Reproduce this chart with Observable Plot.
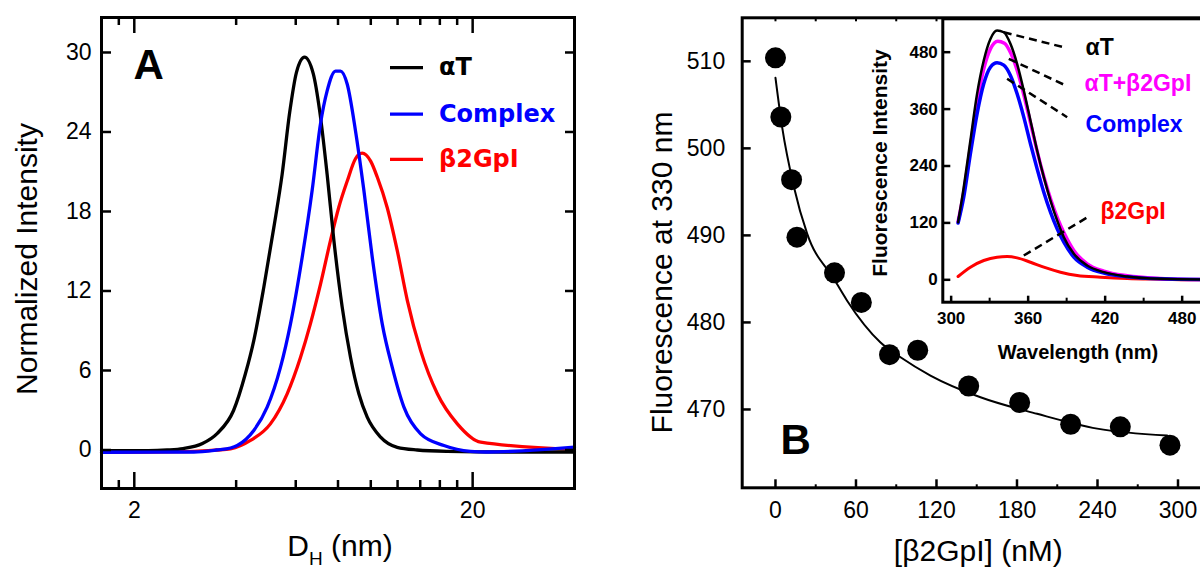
<!DOCTYPE html>
<html><head><meta charset="utf-8">
<script src="https://cdn.jsdelivr.net/npm/d3@7"></script>
<script src="https://cdn.jsdelivr.net/npm/@observablehq/plot@0.6"></script>
<style>
html,body{margin:0;padding:0;background:#fff;overflow:hidden}
#wrap{position:relative;width:1200px;height:569px;overflow:hidden;background:#fff}
#wrap > div{position:absolute;top:0}
</style></head>
<body><div id="wrap"><div id="pa" style="left:0;width:600px"></div><div id="pb" style="left:600px;width:640px"></div><div id="pi" style="left:860px;width:380px"></div></div>
<script>
// ---------- Panel A: DLS size distributions ----------
const seriesA = ["αT", "Complex", "β2GpI"];
const dhAT  = [1.6,2.2,2.5,2.79,3.18,3.52,3.93,4.26,4.51,4.83,5.17,5.47,5.76,6.03,6.37,6.76,7.07,7.43,7.78,8.23,8.71,9.22,9.76,10.69,11.97,13.72,16.8,25,40];
const intAT = [-0.05,-0.05,0.0,0.11,0.49,1.26,2.98,5.75,8.26,12.3,16.8,20.8,25.5,28.5,29.65,28.4,25.5,20.8,15.8,10.8,7.0,4.24,2.48,0.97,0.2,0.0,-0.1,-0.15,-0.15];
const dhCX  = [1.6,3.0,3.5,3.85,4.03,4.51,4.94,5.41,5.79,6.27,6.71,7.10,7.43,7.87,8.14,8.52,9.01,9.54,10.1,10.81,11.57,12.53,14.04,16.45,19.7,22,40];
const intCX = [-0.17,-0.15,0.0,0.15,0.34,1.47,3.23,6.25,9.52,14.55,19.6,24.6,27.1,28.6,28.6,27.6,24.1,19.6,14.55,9.52,6.25,3.23,1.22,0.34,-0.1,-0.15,0.21];
const dhB2  = [1.6,3.0,3.5,3.85,4.41,5.05,5.66,6.20,6.63,7.10,7.60,8.04,8.52,9.01,9.43,9.99,10.45,11.18,11.97,12.82,14.04,15.73,18.02,21.12,40];
const intB2 = [-0.17,-0.1,0.0,0.09,0.72,1.97,4.24,7.0,9.52,12.5,15.8,18.3,20.3,21.98,22.4,21.8,20.6,18.3,15.06,11.3,7.5,4.24,1.97,0.59,0.04];
const xTicksMajorA = [2, 20];
const xTicksMinorA = [1.8, 4, 6, 8, 10, 12, 14, 16, 18];
const yTicksA = [0, 6, 12, 18, 24, 30];

// ---------- Panel B: titration ----------
const conc = [0,4,12,16,44,64,85,106,144,182,220,257,294];
const fluo = [510.4,503.6,496.4,489.8,485.7,482.3,476.3,476.8,472.7,470.8,468.3,468.0,465.9];
const fitConc = [0,5,13.7,23.6,43.6,53.4,78.3,93.2,115.5,152.8,195,239.8,291.9];
const fitFluo = [508.1,502.4,495.6,490.2,485.0,482.5,477.7,476.0,473.9,471.4,469.5,467.8,467.0];
const xTicksB = [0, 60, 120, 180, 240, 300];
const xTicksMinorB = [30, 90, 150, 210, 270];
const yTicksB = [470, 480, 490, 500, 510];

// ---------- Inset: emission spectra ----------
const seriesI = ["αT", "αT+β2GpI", "Complex", "β2GpI"];
const wlAT = [305.4,309.8,315,320.2,325.4,330.6,335.8,341,346.2,351.4,356.6,361.8,367,372.2,377.4,382.6,387.8,395.6,406,419,437.2,463.2,494.4,505];
const fiAT = [121.5,195,293.8,392,462.5,508,525.7,522,497.6,455.4,399,336,272.7,216.4,167.2,125,89.9,54.8,30.2,16.1,6.9,2.0,0.6,0.5];
const wlMX = [305.4,309.8,315,320.2,325.4,330.6,336.3,341.5,346.7,351.9,357.1,362.3,367.5,372.7,377.9,383.1,388.3,395.6,406,419,437.2,463.2,494.4,505];
const fiMX = [123,184.8,279.7,374.6,445,487,503.2,499,476.6,437.8,385,325.4,265.7,213,167.2,128.6,97,61.8,33.7,18.3,8.4,2.8,0.6,0.5];
const wlCX = [305.4,309.8,315,320.2,325.4,330.6,335.8,341,346.2,351.4,356.6,361.8,367,372.2,377.4,382.6,387.8,395.6,406,419,437.2,463.2,494.4,505];
const fiCX = [119.7,174.2,265.7,350,413.3,448.3,457.6,452.6,430.8,392.2,343,286.8,234,184.8,142.6,107.5,79.3,47.7,26.7,14,6.3,2,0.6,0.5];
const wlB2 = [305.4,315,325.4,335.8,343.6,351.4,361.8,372.2,385.2,398.2,416.4,437.2,463.2,494.4,505];
const fiB2 = [7,26.6,40.7,47.7,49,46.3,37.1,26.6,16.1,9.1,5.6,2.8,1.4,0,0];
const xTicksI = [300, 360, 420, 480];
const xTicksMinorI = [330, 390, 450];
const yTicksI = [0, 120, 240, 360, 480];

// ---------- layout (positions / styles) ----------
const FONT = "'Liberation Sans', Arial, sans-serif";
const BOLD2 = "'DejaVu Sans', 'Liberation Sans', sans-serif";
const baseStyle = {fontFamily: FONT, fontSize: "23px", maxWidth: "none", background: "none", overflow: "visible", color: "black"};
const zipXY = (xs, ys) => xs.map((x, i) => ({x, y: ys[i]}));

const LA = {w: 600, h: 569, ml: 101, mr: 26, mt: 17, mb: 81, xd: [1.6, 40], yd: [-2.906, 32.64]};
const LB = {w: 640, h: 569, ml: 141.7, mr: 26, mt: 17.3, mb: 81.7, xd: [-24.8, 327.2], yd: [461.0, 515.0]};
const LI = {w: 380, h: 380, ml: 82.3, mr: 26, mt: 18.3, mb: 78.3, xd: [293.5, 505.2], yd: [-47.2, 550.4]};
const pw = L => L.w - L.ml - L.mr, ph = L => L.h - L.mt - L.mb;
function invLogX(px, L) { const t = (px - L.ml) / pw(L); return Math.exp(Math.log(L.xd[0]) + t * (Math.log(L.xd[1]) - Math.log(L.xd[0]))); }
function invY(py, L) { const t = (py - L.mt) / ph(L); return L.yd[1] - t * (L.yd[1] - L.yd[0]); }

const colorsA = ["black", "#0000ff", "#ff0000"];
const legendA = {x1: 390, x2: 423, tx: 438.5, rows: [67.1, 113.6, 158.9]};

// ---------- Panel A ----------
const linesA = [[dhAT, intAT, 0], [dhB2, intB2, 2], [dhCX, intCX, 1]];
const legendRows = seriesA.map((name, i) => ({name, i, y: invY(legendA.rows[i], LA)}));
const plotA = Plot.plot({
  width: LA.w, height: LA.h, marginLeft: LA.ml, marginRight: LA.mr, marginTop: LA.mt, marginBottom: LA.mb,
  style: baseStyle,
  x: {type: "log", domain: LA.xd},
  y: {domain: LA.yd},
  marks: [
    ...[linesA[1], linesA[0], linesA[2]].map(([xs, ys, c]) =>
      Plot.line(zipXY(xs, ys), {x: "x", y: "y", stroke: colorsA[c], strokeWidth: 3.3, curve: "monotone-x"})),
    // legend
    ...legendRows.map(r => Plot.ruleY([r], {y: "y", x1: invLogX(legendA.x1, LA), x2: invLogX(legendA.x2, LA), stroke: colorsA[r.i], strokeWidth: 3.3})),
    ...legendRows.map(r => Plot.text([r], {x: invLogX(legendA.tx, LA), y: "y", text: "name", fill: colorsA[r.i], textAnchor: "start", lineAnchor: "middle", fontSize: 24, fontWeight: "bold", fontFamily: BOLD2})),
    // ticks (inward)
    Plot.tickX(xTicksMajorA, {x: d => d, insetTop: ph(LA) - 16, strokeWidth: 2.5}),
    Plot.tickX(xTicksMajorA, {x: d => d, insetBottom: ph(LA) - 16, strokeWidth: 2.5}),
    Plot.tickX(xTicksMinorA, {x: d => d, insetTop: ph(LA) - 8, strokeWidth: 2.5}),
    Plot.tickX(xTicksMinorA, {x: d => d, insetBottom: ph(LA) - 8, strokeWidth: 2.5}),
    Plot.tickY(yTicksA, {y: d => d, insetRight: pw(LA) - 10, strokeWidth: 2.5}),
    Plot.tickY(yTicksA, {y: d => d, insetLeft: pw(LA) - 9, strokeWidth: 2.5}),
    Plot.axisX({ticks: xTicksMajorA, anchor: "bottom", tickSize: 0, tickPadding: 13, label: null, fontSize: 23, tickFormat: d => String(d)}),
    Plot.axisY({ticks: yTicksA, anchor: "left", tickSize: 0, tickPadding: 10, label: null, fontSize: 23}),
    Plot.frame({strokeWidth: 3}),
    Plot.text(["Normalized Intensity"], {text: d => d, frameAnchor: "left", rotate: -90, dx: -65, dy: 6, lineAnchor: "bottom", textAnchor: "middle", fontSize: 30}),
    Plot.text(["DH (nm)"], {text: d => d, frameAnchor: "bottom", dx: 2, dy: 67, lineAnchor: "bottom", textAnchor: "middle", fontSize: 30}),
    Plot.text(["A"], {text: d => d, frameAnchor: "top-left", dx: 32, dy: 61, lineAnchor: "bottom", textAnchor: "start", fontSize: 42, fontWeight: "bold"})
  ]
});
plotA.querySelectorAll("text").forEach(t => {
  if (t.textContent === "DH (nm)") t.innerHTML = 'D<tspan dy="9" font-size="19">H</tspan><tspan dy="-9"> (nm)</tspan>';
});
document.getElementById("pa").append(plotA);

// ---------- Panel B ----------
const plotB = Plot.plot({
  width: LB.w, height: LB.h, marginLeft: LB.ml, marginRight: LB.mr, marginTop: LB.mt, marginBottom: LB.mb,
  style: baseStyle,
  x: {domain: LB.xd},
  y: {domain: LB.yd},
  marks: [
    Plot.line(zipXY(fitConc, fitFluo), {x: "x", y: "y", stroke: "black", strokeWidth: 2, curve: "monotone-x"}),
    Plot.dot(zipXY(conc, fluo), {x: "x", y: "y", r: 10.5, fill: "black", stroke: "none"}),
    Plot.tickX(xTicksB, {x: d => d, insetTop: ph(LB) - 8, strokeWidth: 2.5}),
    Plot.tickX(xTicksMinorB, {x: d => d, insetTop: ph(LB) - 3, strokeWidth: 2}),
    Plot.tickX([...xTicksB, ...xTicksMinorB], {x: d => d, insetBottom: ph(LB) - 4, strokeWidth: 2}),
    Plot.tickY(yTicksB, {y: d => d, insetRight: pw(LB) - 9, strokeWidth: 2.5}),
    Plot.axisX({ticks: xTicksB, anchor: "bottom", tickSize: 0, tickPadding: 14, label: null, fontSize: 23}),
    Plot.axisY({ticks: yTicksB, anchor: "left", tickSize: 0, tickPadding: 17, label: null, fontSize: 23}),
    Plot.frame({strokeWidth: 3}),
    Plot.text(["Fluorescence at 330 nm"], {text: d => d, frameAnchor: "left", rotate: -90, dx: -70, dy: 19.7, lineAnchor: "bottom", textAnchor: "middle", fontSize: 30}),
    Plot.text(["[β2GpI] (nM)"], {text: d => d, frameAnchor: "bottom", dy: 72.7, lineAnchor: "bottom", textAnchor: "middle", fontSize: 30}),
    Plot.text(["B"], {text: d => d, frameAnchor: "bottom-left", dx: 38.3, dy: -34, lineAnchor: "bottom", textAnchor: "start", fontSize: 42, fontWeight: "bold"})
  ]
});
document.getElementById("pb").append(plotB);

// ---------- Inset ----------
const colorsI = ["black", "#ff00ff", "#0000ff", "#ff0000"];
const annot = {
  x1: [341, 344.9, 343.6, 356.6], y1: [522, 466, 423.9, 51.2],
  x2: [387.7, 387.7, 390.4, 408.5], y2: [490.5, 411.8, 342.9, 135.6],
  tx: [404.7, 403.9, 404.7, 416.4], ty: [488.9, 413.7, 327.5, 144.4]
};
const annotRows = seriesI.map((name, i) => ({name, i, x1: annot.x1[i], y1: annot.y1[i], x2: annot.x2[i], y2: annot.y2[i], tx: annot.tx[i], ty: annot.ty[i]}));
const linesI = [[wlB2, fiB2, 3, 3], [wlMX, fiMX, 1, 3.5], [wlCX, fiCX, 2, 3.5], [wlAT, fiAT, 0, 2.5]];
const plotI = Plot.plot({
  width: LI.w, height: LI.h, marginLeft: LI.ml, marginRight: LI.mr, marginTop: LI.mt, marginBottom: LI.mb,
  style: baseStyle,
  x: {domain: LI.xd},
  y: {domain: LI.yd},
  marks: [
    Plot.frame({fill: "white", stroke: null}),
    ...linesI.map(([xs, ys, c, w]) => Plot.line(zipXY(xs, ys), {x: "x", y: "y", stroke: colorsI[c], strokeWidth: w, curve: "monotone-x"})),
    Plot.link(annotRows, {x1: "x1", y1: "y1", x2: "x2", y2: "y2", stroke: "black", strokeWidth: 2.5, strokeDasharray: "8,5"}),
    ...annotRows.map(r => Plot.text([r], {x: "tx", y: "ty", text: "name", fill: colorsI[r.i], textAnchor: "start", lineAnchor: "middle", fontSize: 23, fontWeight: "bold"})),
    Plot.tickX(xTicksI, {x: d => d, insetTop: ph(LI) - 6, strokeWidth: 2.5}),
    Plot.tickX(xTicksMinorI, {x: d => d, insetTop: ph(LI) - 4, strokeWidth: 2}),
    Plot.tickY(yTicksI, {y: d => d, insetRight: pw(LI) - 8, strokeWidth: 2.5}),
    Plot.axisX({ticks: xTicksI, anchor: "bottom", tickSize: 0, tickPadding: 10, label: null, fontSize: 17, fontWeight: "bold"}),
    Plot.axisY({ticks: yTicksI, anchor: "left", tickSize: 0, tickPadding: 5, label: null, fontSize: 17, fontWeight: "bold"}),
    Plot.frame({strokeWidth: 3}),
    Plot.text(["Fluorescence Intensity"], {text: d => d, frameAnchor: "left", rotate: -90, dx: -55.6, dy: 2.5, lineAnchor: "bottom", textAnchor: "middle", fontSize: 21, fontWeight: "bold"}),
    Plot.text(["Wavelength (nm)"], {text: d => d, frameAnchor: "bottom", dx: -0.7, dy: 56.3, lineAnchor: "bottom", textAnchor: "middle", fontSize: 20, fontWeight: "bold"})
  ]
});
document.getElementById("pi").append(plotI);
</script>
</body></html>
